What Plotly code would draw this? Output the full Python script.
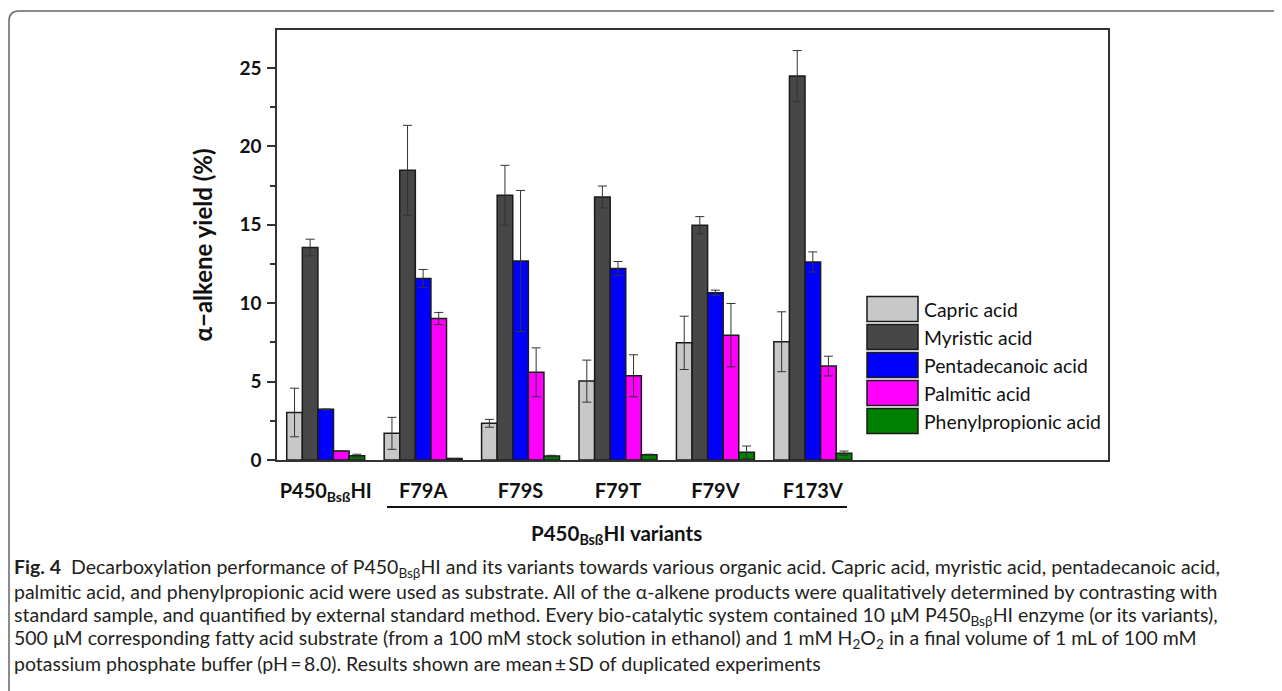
import plotly.graph_objects as go

categories = ["P450<sub>Bsß</sub>HI", "F79A", "F79S", "F79T", "F79V", "F173V"]
series_names = ["Capric acid", "Myristic acid", "Pentadecanoic acid", "Palmitic acid", "Phenylpropionic acid"]
series_colors = ["#c8c8c8", "#474747", "#0000ff", "#ff00ff", "#008000"]

capric = [3.03, 1.70, 2.34, 5.03, 7.47, 7.54]
capric_sd = [1.55, 1.02, 0.25, 1.34, 1.70, 1.91]
myristic = [13.55, 18.47, 16.88, 16.77, 14.97, 24.48]
myristic_sd = [0.53, 2.87, 1.91, 0.70, 0.55, 1.63]
pentadecanoic = [3.23, 11.57, 12.69, 12.21, 10.66, 12.63]
pentadecanoic_sd = [0.02, 0.58, 4.50, 0.45, 0.17, 0.64]
palmitic = [0.57, 9.02, 5.59, 5.37, 7.96, 5.99]
palmitic_sd = [0.0, 0.39, 1.56, 1.34, 2.02, 0.63]
phenylpropionic = [0.27, 0.10, 0.25, 0.34, 0.49, 0.43]
phenylpropionic_sd = [0.10, 0.0, 0.05, 0.03, 0.40, 0.14]

values = [capric, myristic, pentadecanoic, palmitic, phenylpropionic]
sds = [capric_sd, myristic_sd, pentadecanoic_sd, palmitic_sd, phenylpropionic_sd]

W, H = 1282, 691
OFF = 8  # page body margin
L, R, T, B = 277, 1108, 30, 460
pw, ph = R - L, B - T


def px(x):
    return (x - L) / pw


def py(y):
    return (B - y) / ph


fig = go.Figure()
for name, col, v, e in zip(series_names, series_colors, values, sds):
    fig.add_trace(go.Bar(
        x=categories, y=v, name=name,
        marker=dict(color=col, line=dict(color="#1a1a1a", width=1.5)),
        error_y=dict(type="data", array=e, visible=True, color="#333333", thickness=1, width=4.5),
        showlegend=False,
    ))

font_main = "Lato, 'Open Sans', Arial, sans-serif"

fig.update_layout(
    width=W, height=H,
    margin=dict(l=L - OFF, r=W - (R - OFF), t=T - OFF, b=H - (B - OFF), pad=0),
    paper_bgcolor="white", plot_bgcolor="white",
    barmode="group", bargap=0.2, bargroupgap=0,
    font=dict(family=font_main, color="#111111"),
    xaxis=dict(
        type="category", range=[-0.5, 8.03],
        showline=True, linecolor="#333333", linewidth=1.5, mirror=True,
        ticks="", showgrid=False, zeroline=False,
        tickfont=dict(size=20, family=font_main, weight="bold"),
        ticklabelstandoff=12,
    ),
    yaxis=dict(
        range=[0, 27.42], tickmode="array", tickvals=[0, 5, 10, 15, 20, 25],
        showline=True, linecolor="#333333", linewidth=1.5, mirror=True,
        ticks="outside", ticklen=8, tickwidth=1.5, tickcolor="#333333",
        minor=dict(tickvals=[2.5, 7.5, 12.5, 17.5, 22.5], ticks="outside", ticklen=5, tickwidth=1.5, tickcolor="#333333"),
        showgrid=False, zeroline=False,
        tickfont=dict(size=19, family=font_main, weight="bold"),
        ticklabelstandoff=2,
        title=dict(text="α−alkene yield (%)", font=dict(size=24, family=font_main, weight="bold"), standoff=20),
    ),
)

shapes = []
annotations = []

# legend drawn inside the frame
for i, (name, col) in enumerate(zip(series_names, series_colors)):
    cy = 309 + 28 * i
    shapes.append(dict(type="rect", xref="paper", yref="paper",
                       x0=px(867), x1=px(918), y0=py(cy + 12.5), y1=py(cy - 12.5),
                       fillcolor=col, line=dict(color="#1a1a1a", width=1.5)))
    annotations.append(dict(xref="paper", yref="paper", x=px(922), y=py(cy), text=name,
                            showarrow=False, xanchor="left", yanchor="middle",
                            font=dict(size=19.4, family=font_main, color="#111111")))

# variants bracket line and label
shapes.append(dict(type="line", xref="paper", yref="paper", x0=px(387), x1=px(847), y0=py(507), y1=py(507),
                   line=dict(color="#111111", width=2)))
annotations.append(dict(xref="paper", yref="paper", x=px(616), y=py(534), text="P450<sub>Bsß</sub>HI variants",
                        showarrow=False, xanchor="center", yanchor="middle",
                        font=dict(size=20.5, family=font_main, weight="bold", color="#111111")))

# outer rounded frame
r = 10
path = (f"M {px(9)},{py(720)} L {px(9)},{py(11 + r)} Q {px(9)},{py(11)} {px(9 + r)},{py(11)} "
        f"L {px(1300)},{py(11)}")
shapes.append(dict(type="path", xref="paper", yref="paper", path=path, line=dict(color="#666666", width=1.5)))

caption_lines = [
    "<b>Fig. 4</b>  Decarboxylation performance of P450<sub>Bsβ</sub>HI and its variants towards various organic acid. Capric acid, myristic acid, pentadecanoic acid,",
    "palmitic acid, and phenylpropionic acid were used as substrate. All of the α-alkene products were qualitatively determined by contrasting with",
    "standard sample, and quantified by external standard method. Every bio-catalytic system contained 10 μM P450<sub>Bsβ</sub>HI enzyme (or its variants),",
    "500 μM corresponding fatty acid substrate (from a 100 mM stock solution in ethanol) and 1 mM H<sub>2</sub>O<sub>2</sub> in a final volume of 1 mL of 100 mM",
    "potassium phosphate buffer (pH\u2009=\u20098.0). Results shown are mean\u2009±\u2009SD of duplicated experiments",
]
for i, line in enumerate(caption_lines):
    annotations.append(dict(xref="paper", yref="paper", x=px(12), y=py(568 + 23.8 * i), text=line,
                            showarrow=False, xanchor="left", yanchor="middle",
                            font=dict(size=19.5, family=font_main, color="#231f20")))

fig.update_layout(shapes=shapes, annotations=annotations)
fig.write_html("out.html")
